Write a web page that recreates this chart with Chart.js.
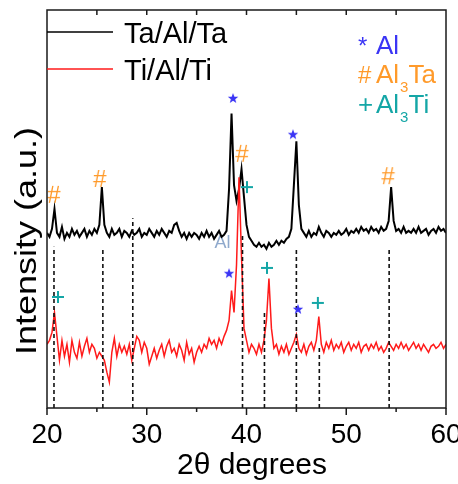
<html>
<head>
<title>XRD Ta/Al/Ta vs Ti/Al/Ti</title>
<script src="https://cdn.jsdelivr.net/npm/chart.js@4.4.0/dist/chart.umd.min.js"></script>
<style>
    body { margin: 0; background: #fff; }
</style>
</head>
<body>
<canvas id="xrd" width="458" height="484"></canvas>
<script type="text/javascript">
// scan grid: 20..60 deg, 0.25 deg step
var angleStart = 20;
var angleStep = 0.25;

// Ta/Al/Ta (black, offset up)
var taAlTa = [
    44, 43, 45, 50, 44, 43, 45.5, 42.5,
    44, 43, 45, 43.5, 44.5, 43, 44, 45,
    43, 44.5, 43.5, 45, 44, 46, 55.5, 46,
    44, 43, 45, 43.5, 44, 45, 43, 44.5,
    44, 43, 44.5, 43.5, 44, 45, 43, 44,
    43.5, 45, 44, 43, 44.5, 43.5, 45, 44,
    43, 44.5, 44, 46, 46.5, 44.5, 43, 44,
    42.5, 44, 43, 44, 43.5, 42.5, 44, 43,
    44.5, 43, 44, 42.5, 43.5, 44.5, 43, 43.5,
    44.5, 55, 74, 56, 52, 55, 60, 53,
    46, 43, 42, 41, 40.5, 41.5, 40.5, 41,
    40, 41.5, 40.5, 41, 42, 41, 42, 41.5,
    42.5, 43, 45, 56, 67, 51, 45, 44,
    43, 44.5, 43, 44, 43.5, 45.5, 44, 43,
    44.5, 44, 43, 44, 43.5, 44.5, 43.5, 44,
    45, 43.5, 44.5, 44, 45, 44, 45.5, 44.5,
    45, 44, 45.5, 44.5, 45, 44, 45.5, 44.5,
    45, 47, 55.5, 47, 44.5, 45, 44, 45.5,
    44, 44.5, 44, 45, 44, 45.5, 44, 44.5,
    45, 43.5, 44.5, 45, 44, 45.5, 44.5, 45,
    44
];

// Ti/Al/Ti (red)
var tiAlTi = [
    16, 17, 19, 24, 18, 12, 17, 13,
    16, 11.5, 17, 14, 12.5, 16.5, 13, 15.5,
    17.5, 14, 16, 15, 12.5, 14, 13, 12,
    9, 6.5, 14, 17.5, 13, 16, 14, 15.5,
    13.5, 16, 12, 15, 18, 17, 14, 16.5,
    15, 11, 13, 15, 12.5, 14.5, 16, 13,
    15.5, 17, 14, 15, 13, 16, 14.5, 12,
    16.5, 13.5, 15, 11.5, 14, 15.5, 14, 16,
    15, 17.5, 16, 17, 15, 17.5, 16, 18,
    19.5, 22, 29.5, 24, 36, 58, 38, 20,
    17, 14, 16, 15, 13.5, 16, 14, 17,
    22, 32.5, 20, 15, 16, 13.5, 15.5, 14,
    16, 13.5, 15, 16.5, 18.5, 15, 14, 16,
    13.5, 15.5, 16.5, 14.5, 17, 23, 16, 14,
    16.5, 15, 17, 14.5, 16, 15, 16.5, 14,
    15.5, 16.5, 14.5, 16, 15, 16.5, 14, 15.5,
    16, 14.5, 16, 15, 16.5, 14.5, 15.5, 14,
    15, 16.5, 15.5, 14.5, 16, 15, 16.5, 15,
    16, 14.5, 15.5, 16.5, 15, 16, 14.5, 16,
    15, 14, 15.5, 16, 15, 15.5, 16.5, 15,
    16
];

var xTicks = [20, 30, 40, 50, 60];
var xMinor = [25, 35, 45, 55];

// dotted reference lines: angle and where they start (top)
var dashAngles = [20.7, 25.6, 28.6, 39.6, 41.8, 45.0, 47.3, 54.3];
var dashTops = [40.5, 39.7, 47.7, 44, 24.6, 39.7, 15.3, 39.7];

// phase markers [angle, height]
var alPeaks = [[38.65, 77.9], [44.66, 68.8], [38.25, 33.9], [45.16, 24.9]];
var al3taPeaks = [[20.7, 53.3], [25.3, 57.3], [39.55, 63.6], [54.2, 58]];
var al3tiPeaks = [[40.05, 55.5], [21.1, 27.9], [42.05, 35.2], [47.15, 26.4]];

var BLUE = '#3b35f5';
var ORANGE = '#ff9a2a';
var TEAL = '#14a6a6';
var FONT = '"Liberation Sans", Arial, sans-serif';

function toPoints(vals) {
    return vals.map(function (v, i) { return { x: angleStart + i * angleStep, y: v }; });
}
function pairs(list) {
    return list.map(function (p) { return { x: p[0], y: p[1] }; });
}

function starMark(color) {
    var c = document.createElement('canvas');
    c.width = 12; c.height = 12;
    var g = c.getContext('2d');
    g.fillStyle = color;
    g.beginPath();
    for (var k = 0; k < 10; k++) {
        var r = k % 2 ? 2.3 : 5.5;
        var a = -Math.PI / 2 + k * Math.PI / 5;
        g.lineTo(6 + r * Math.cos(a), 6.5 + r * Math.sin(a));
    }
    g.closePath();
    g.fill();
    return c;
}
function hashMark(color) {
    var c = document.createElement('canvas');
    c.width = 18; c.height = 22;
    var g = c.getContext('2d');
    g.fillStyle = color;
    g.font = '24px ' + FONT;
    g.textAlign = 'center';
    g.textBaseline = 'middle';
    g.fillText('#', 9, 11);
    return c;
}
function plusMark(color) {
    var c = document.createElement('canvas');
    c.width = 14; c.height = 14;
    var g = c.getContext('2d');
    g.strokeStyle = color;
    g.lineWidth = 2;
    g.beginPath();
    g.moveTo(1, 7); g.lineTo(13, 7);
    g.moveTo(7, 1); g.lineTo(7, 13);
    g.stroke();
    return c;
}

var datasets = [];
dashAngles.forEach(function (a, i) {
    datasets.push({
        data: [{ x: a, y: 0 }, { x: a, y: dashTops[i] }],
        borderColor: '#111', borderWidth: 1.6, borderDash: [4, 3],
        pointRadius: 0, order: 1
    });
});
datasets.push({ data: pairs(alPeaks), showLine: false, pointStyle: starMark(BLUE), pointRadius: 5, order: 0 });
datasets.push({ data: pairs(al3taPeaks), showLine: false, pointStyle: hashMark(ORANGE), pointRadius: 5, order: 0 });
datasets.push({ data: pairs(al3tiPeaks), showLine: false, pointStyle: plusMark(TEAL), pointRadius: 5, order: 0 });
datasets.push({ label: 'Ti/Al/Ti', data: toPoints(tiAlTi), borderColor: '#ff1a1a', borderWidth: 1.5, pointRadius: 0, tension: 0, order: 2 });
datasets.push({ label: 'Ta/Al/Ta', data: toPoints(taAlTa), borderColor: '#000', borderWidth: 2, pointRadius: 0, tension: 0, order: 3 });

var decor = {
    id: 'decor',
    beforeDatasetsDraw: function (chart) {
        var ctx = chart.ctx, xs = chart.scales.x, ys = chart.scales.y;
        ctx.save();
        ctx.font = '18px ' + FONT;
        ctx.fillStyle = '#8fa9cc';
        ctx.textAlign = 'center';
        ctx.fillText('Al', xs.getPixelForValue(37.6), ys.getPixelForValue(40.2));
        ctx.restore();
    },
    afterDraw: function (chart) {
        var ctx = chart.ctx, a = chart.chartArea, xs = chart.scales.x;
        ctx.save();
        ctx.strokeStyle = '#1a1a1a';
        ctx.lineWidth = 1.5;
        ctx.strokeRect(a.left, a.top, a.right - a.left, a.bottom - a.top);

        ctx.beginPath();
        xTicks.forEach(function (v) {
            var px = xs.getPixelForValue(v);
            ctx.moveTo(px, a.bottom); ctx.lineTo(px, a.bottom + 7);
            if (v > 20 && v < 60) { ctx.moveTo(px, a.top); ctx.lineTo(px, a.top + 5); }
        });
        xMinor.forEach(function (v) {
            var px = xs.getPixelForValue(v);
            ctx.moveTo(px, a.bottom); ctx.lineTo(px, a.bottom + 4);
            ctx.moveTo(px, a.top); ctx.lineTo(px, a.top + 5);
        });
        ctx.stroke();

        ctx.fillStyle = '#000';
        ctx.font = '28px ' + FONT;
        ctx.textAlign = 'center';
        ctx.textBaseline = 'alphabetic';
        xTicks.forEach(function (v) {
            ctx.fillText(String(v), xs.getPixelForValue(v), 443);
        });
        ctx.font = '30px ' + FONT;
        ctx.fillText('2\u03b8 degrees', 252, 474);

        ctx.save();
        ctx.translate(36, 241);
        ctx.rotate(-Math.PI / 2);
        ctx.scale(1.2, 1);
        ctx.font = '30px ' + FONT;
        ctx.fillText('Intensity (a.u.)', 0, 0);
        ctx.restore();

        // series legend
        ctx.lineWidth = 1.5;
        ctx.strokeStyle = '#000';
        ctx.beginPath(); ctx.moveTo(a.left, 32); ctx.lineTo(113, 32); ctx.stroke();
        ctx.strokeStyle = '#ff1a1a';
        ctx.beginPath(); ctx.moveTo(a.left, 69); ctx.lineTo(113, 69); ctx.stroke();
        ctx.textAlign = 'left';
        ctx.font = '29px ' + FONT;
        ctx.fillStyle = '#000';
        ctx.fillText('Ta/Al/Ta', 124, 43);
        ctx.fillText('Ti/Al/Ti', 124, 80);

        // phase legend
        function phase(sym, symFont, name, tail, color, y) {
            ctx.fillStyle = color;
            ctx.font = symFont;
            ctx.fillText(sym, 358, y);
            ctx.font = '26px ' + FONT;
            var x = 376;
            ctx.fillText(name, x, y);
            x += ctx.measureText(name).width + 1;
            if (tail) {
                ctx.font = '15px ' + FONT;
                ctx.fillText('3', x, y + 9);
                x += ctx.measureText('3').width;
                ctx.font = '26px ' + FONT;
                ctx.fillText(tail, x, y);
            }
        }
        phase('*', '24px ' + FONT, 'Al', '', BLUE, 54);
        phase('#', '24px ' + FONT, 'Al', 'Ta', ORANGE, 83);
        phase('+', '26px ' + FONT, 'Al', 'Ti', TEAL, 113);
        ctx.restore();
    }
};

var chart = new Chart(document.getElementById('xrd').getContext('2d'), {
    type: 'line',
    data: { datasets: datasets },
    options: {
        responsive: false,
        animation: false,
        layout: { padding: { left: 47, right: 12, top: 10, bottom: 76 } },
        plugins: { legend: { display: false }, tooltip: { enabled: false } },
        scales: {
            x: { type: 'linear', min: 20, max: 60, display: false },
            y: { min: 0, max: 100, display: false }
        }
    },
    plugins: [decor]
});
</script>
</body>
</html>
